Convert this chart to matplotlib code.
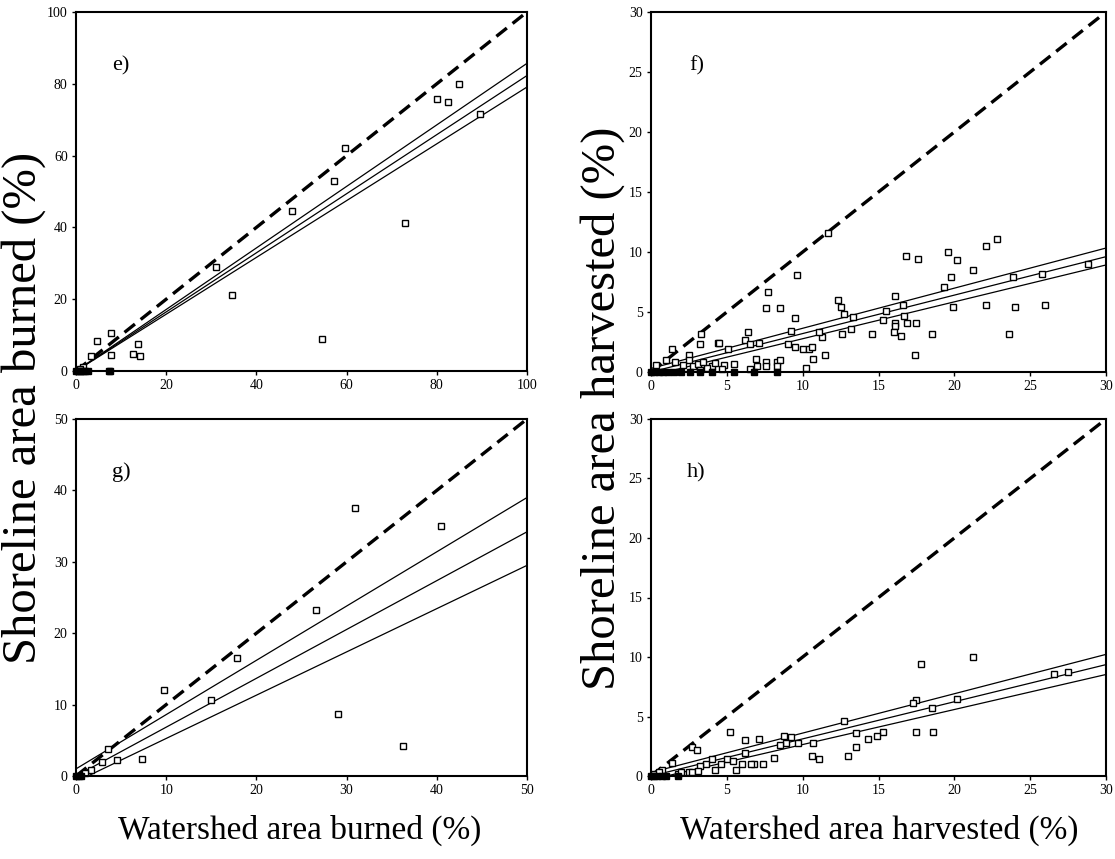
import matplotlib
matplotlib.use('Agg')
import matplotlib.pyplot as plt

plt.rcParams['font.family'] = ['Liberation Serif', 'DejaVu Serif']

# e) burned, 0-100 %
e_x = [80.0, 82.5, 85.0, 89.5, 59.6, 57.1, 48.0, 73.0, 31.1, 34.5,
       54.5, 7.7, 4.7, 13.7, 3.4, 7.8, 12.7, 14.2, 1.5, 0.8]
e_y = [75.7, 75.0, 80.0, 71.5, 62.1, 52.8, 44.5, 41.2, 29.1, 21.2,
       8.8, 10.7, 8.3, 7.6, 4.1, 4.5, 4.6, 4.3, 1.0, 0.5]
e_zero = [0, 0.4, 0.8, 1.2, 1.6, 2.0, 2.6, 7.3, 7.6]
e_fit_x = [0, 100]
e_fit = {'upper': [0, 85.7], 'mean': [0, 82.3], 'lower': [0, 79.1]}

# f) harvested, 0-30 %
f_x = [22.8, 22.1, 19.6, 20.2, 16.8, 17.6, 21.2, 9.6, 28.8, 23.9,
       25.8, 19.8, 19.3, 7.7, 16.1, 12.3, 12.5, 7.6, 8.5, 16.6,
       19.9, 22.1, 24.0, 26.0, 12.7, 13.3, 9.5, 15.5, 16.7, 15.3,
       16.9, 17.5, 16.1, 16.1, 13.2, 14.6, 16.0, 16.5, 18.5, 23.6,
       17.4, 12.6, 11.3, 11.1, 9.2, 9.0, 9.5, 10.0, 10.4, 10.6,
       10.7, 11.5, 10.2, 3.3, 3.2, 4.4, 4.5, 1.4, 6.4, 6.2,
       6.5, 7.1, 5.1, 2.5, 1.0, 1.6, 0.3, 6.9, 7.0, 7.6,
       8.3, 8.5, 8.3, 7.6, 5.5, 4.8, 4.0, 3.7, 6.5, 4.7,
       2.5, 2.1, 2.8, 3.1, 3.2, 4.2, 3.4, 11.7]
f_y = [11.1, 10.5, 10.0, 9.3, 9.7, 9.4, 8.5, 8.1, 9.0, 7.9,
       8.2, 7.9, 7.1, 6.7, 6.3, 6.0, 5.4, 5.3, 5.3, 5.6,
       5.4, 5.6, 5.4, 5.6, 4.8, 4.6, 4.5, 5.1, 4.7, 4.3,
       4.1, 4.1, 4.1, 3.8, 3.6, 3.2, 3.3, 3.0, 3.2, 3.2,
       1.4, 3.2, 2.9, 3.3, 3.4, 2.3, 2.1, 1.9, 1.9, 2.1,
       1.1, 1.4, 0.3, 3.2, 2.3, 2.4, 2.4, 1.9, 3.3, 2.7,
       2.3, 2.4, 1.9, 1.4, 1.0, 0.8, 0.6, 1.1, 0.5, 0.8,
       0.8, 1.0, 0.5, 0.5, 0.7, 0.6, 0.5, 0.3, 0.25, 0.25,
       1.0, 0.6, 0.5, 0.7, 0.15, 0.75, 0.8, 11.6]
f_zero = [0, 0.2, 0.5, 0.8, 1.1, 1.5, 2.0, 2.6, 3.2, 4.0, 5.5, 6.8, 8.3]
f_fit_x = [0, 30]
f_fit = {'upper': [0.3, 10.33], 'mean': [0.0, 9.61], 'lower': [-0.3, 8.92]}

# g) burned, 0-50 %
g_x = [30.9, 40.5, 26.6, 17.8, 9.8, 15.0, 29.0, 36.2, 3.5, 7.3, 4.5, 2.9, 1.7, 1.0]
g_y = [37.6, 35.0, 23.2, 16.5, 12.0, 10.6, 8.7, 4.2, 3.8, 2.4, 2.3, 1.9, 0.9, 0.4]
g_zero = [0, 0.3, 0.6]
g_fit_x = [0, 50]
g_fit = {'upper': [1.0, 39.0], 'mean': [0.0, 34.2], 'lower': [-0.8, 29.5]}

# h) harvested, 0-30 %
h_x = [21.2, 17.8, 26.6, 27.5, 17.5, 17.3, 20.2, 18.5, 12.7, 17.5,
       18.6, 5.2, 13.5, 15.3, 14.9, 14.3, 13.5, 13.0, 8.8, 9.2,
       7.1, 6.2, 2.7, 3.0, 10.6, 11.1, 8.1, 10.7, 9.7, 8.9,
       8.5, 7.4, 6.8, 6.6, 6.0, 5.6, 4.2, 4.0, 5.0, 5.4,
       6.2, 4.6, 3.6, 3.2, 1.4, 0.75, 1.8, 2.5, 2.7, 3.1,
       2.0, 0.2, 0.5]
h_y = [10.0, 9.4, 8.6, 8.7, 6.4, 6.1, 6.5, 5.7, 4.6, 3.7,
       3.7, 3.7, 3.6, 3.7, 3.4, 3.1, 2.4, 1.7, 3.4, 3.3,
       3.1, 3.0, 2.4, 2.2, 1.7, 1.4, 1.5, 2.75, 2.75, 2.8,
       2.6, 1.0, 1.05, 1.05, 1.0, 0.5, 0.5, 1.4, 1.4, 1.3,
       1.9, 1.0, 1.0, 0.8, 1.1, 0.5, 0.2, 0.3, 0.3, 0.4,
       0.3, 0.15, 0.3]
h_zero = [0, 0.2, 0.4, 0.7, 1.0, 1.8]
h_fit_x = [0, 30]
h_fit = {'upper': [0.3, 10.22], 'mean': [0.0, 9.36], 'lower': [-0.3, 8.53]}

W, H = 1115, 859
fig = plt.figure(figsize=(W / 100, H / 100), dpi=100)


def panel(box, xs, ys, zero, fit_x, fit, lim, step, tag):
    l, t, r, b = box
    ax = fig.add_axes([l / W, (H - b) / H, (r - l) / W, (b - t) / H])
    ax.plot([0, lim], [0, lim], color='black', lw=2.4, dashes=(4, 2.2))
    for k in ('upper', 'mean', 'lower'):
        ax.plot(fit_x, fit[k], color='black', lw=0.9)
    ax.plot(xs, ys, 's', ms=4.2, mfc='white', mec='black', mew=1.0, clip_on=False)
    ax.plot(zero, [0] * len(zero), 's', ms=4.2, mfc='black', mec='black', clip_on=False)
    ax.set_xlim(0, lim)
    ax.set_ylim(0, lim)
    ticks = list(range(0, lim + 1, step))
    ax.set_xticks(ticks)
    ax.set_yticks(ticks)
    ax.tick_params(direction='out', length=3, width=1, labelsize=10, pad=3)
    for s in ax.spines.values():
        s.set_linewidth(1.5)
    ax.text(0.1, 0.85, tag, transform=ax.transAxes, fontsize=16,
            ha='center', va='center')
    return ax


panel((76, 12, 527, 371), e_x, e_y, e_zero, e_fit_x, e_fit, 100, 20, 'e)')
panel((651, 12, 1106, 372), f_x, f_y, f_zero, f_fit_x, f_fit, 30, 5, 'f)')
panel((76, 419, 527, 776), g_x, g_y, g_zero, g_fit_x, g_fit, 50, 10, 'g)')
panel((651, 419, 1106, 776), h_x, h_y, h_zero, h_fit_x, h_fit, 30, 5, 'h)')

fig.text(24 / W, 0.525, 'Shoreline area burned (%)', rotation=90, fontsize=35,
         ha='center', va='center')
fig.text(603 / W, 0.525, 'Shoreline area harvested (%)', rotation=90, fontsize=35,
         ha='center', va='center')
fig.text(300 / W, (H - 830) / H, 'Watershed area burned (%)', fontsize=24,
         ha='center', va='center')
fig.text(879 / W, (H - 830) / H, 'Watershed area harvested (%)', fontsize=24,
         ha='center', va='center')

fig.savefig('out.png', dpi=100)
